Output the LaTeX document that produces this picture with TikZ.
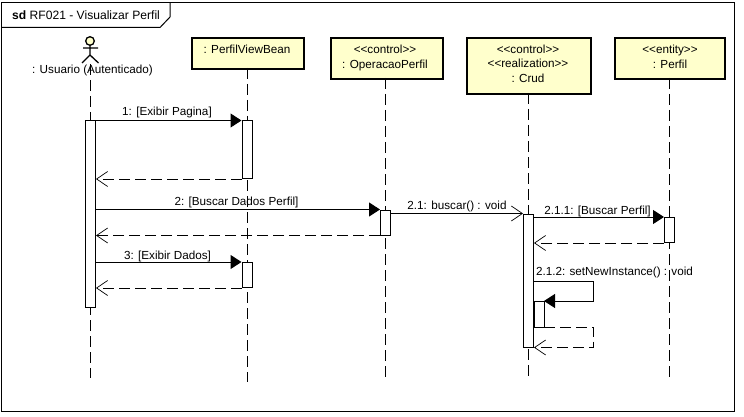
\documentclass[tikz,border=0pt]{standalone}
\usepackage{fontspec}
\setmainfont{Liberation Sans}
\usetikzlibrary{arrows.meta,positioning,calc}
\definecolor{boxfill}{HTML}{FFFFCC}
\tikzset{
  txt/.style={font=\fontsize{11.7}{14.5}\selectfont, inner sep=0pt, align=center, text=black},
  lifebox/.style={draw=black, line width=2pt, fill=boxfill, minimum width=#1, inner sep=0pt},
  act/.style={draw=black, line width=1pt, fill=white, minimum width=10pt, inner sep=0pt, anchor=north},
  life/.style={draw=black, line width=1pt, dash pattern=on 11pt off 5pt},
  sync/.style={draw=black, line width=1pt, -{Triangle[length=11pt,width=14pt]}},
  async/.style={draw=black, line width=1pt, -{Straight Barb[length=11pt,width=15pt,line width=.7pt]}},
  ret/.style={draw=black, line width=1pt, dash pattern=on 11pt off 5pt, -{Straight Barb[length=11pt,width=15pt,line width=.7pt]}}
}
\begin{document}
\begin{tikzpicture}[x=1pt,y=-1pt]
\useasboundingbox (0,0) rectangle (744,417);
\fill[white] (0,0) rectangle (744,417);
% frame
\draw[line width=1pt] (1.5,2.5) rectangle (734.5,411);
\draw[line width=1pt] (1.5,27.5) -- (160,27.5) -- (170,17) -- (170,2.5);
\node[txt, anchor=base west, font=\fontsize{12.1}{14.5}\selectfont] (title) at (12,20) {\textbf{sd} RF021 - Visualizar Perfil};
% lifeline heads
\node[lifebox=112pt, minimum height=31pt, anchor=north west] (pv) at (191,37) {};
\node[lifebox=112pt, minimum height=41pt, anchor=north west] (op) at (329.5,37) {};
\node[lifebox=124pt, minimum height=56pt, anchor=north west] (cr) at (466,37) {};
\node[lifebox=110pt, minimum height=41pt, anchor=north west] (pf) at (614,37) {};
\node[txt, anchor=base] (pvt) at (247,54) {: PerfilViewBean};
\node[txt, anchor=base] (opt1) at (385,54) {<{}<control>{}>};
\node[txt, anchor=base] (opt2) at (385,69) {: OperacaoPerfil};
\node[txt, anchor=base] (crt1) at (528,54) {<{}<control>{}>};
\node[txt, anchor=base] (crt2) at (528,68) {<{}<realization>{}>};
\node[txt, anchor=base] (crt3) at (528,83) {: Crud};
\node[txt, anchor=base] (pft1) at (670,54) {<{}<entity>{}>};
\node[txt, anchor=base] (pft2) at (670,69) {: Perfil};
% actor
\coordinate (ah) at (90,41);
\draw[line width=1.3pt, fill=boxfill] (ah) circle (4.3);
\draw[line width=1.3pt] (90,45.5) -- (90,55) (83,48) -- (98,48) (82,63) -- (90,55) -- (98.5,63);
\node[txt, anchor=base] (ua) at (92.5,74) {: Usuario (Autenticado)};
% lifelines
\coordinate (ue) at (90.5,378);
\coordinate (pve) at (247,382);
\coordinate (ope) at (385.5,378);
\coordinate (cre) at (528,378);
\coordinate (pfe) at (669.5,378);
\draw[life] (90.5,64) -- (ue);
\draw[life] (247,68) -- (pve);
\draw[life] (385.5,78) -- (ope);
\draw[life] (528,93) -- (cre);
\draw[life] (669.5,78) -- (pfe);
% activations
\node[act, minimum height=186.5pt] (ua1) at (90.5,120.5) {};
\node[act, minimum height=57.5pt] (pv1) at (247,120.5) {};
\node[act, minimum height=25pt] (pv2) at (247,262) {};
\node[act, minimum height=25pt] (op1) at (385.5,209.5) {};
\node[act, minimum height=133pt] (cr1) at (528.5,213.5) {};
\node[act, minimum height=25pt] (pf1) at (669.5,217) {};
\node[act, minimum height=25pt] (cr2) at (538.5,301) {};
\draw[line width=1pt, fill=white] (cr2.north east) rectangle (cr1.east |- cr2.south);
% messages
\draw[sync] (ua1.north east) -- (pv1.north west);
\draw[ret] (pv1.south west) -- (ua1.east |- pv1.south);
\draw[sync] (ua1.east |- op1.north) -- (op1.north west);
\draw[ret] (op1.south west) -- (ua1.east |- op1.south);
\draw[sync] (ua1.east |- pv2.north) -- (pv2.north west);
\draw[ret] (pv2.south west) -- (ua1.east |- pv2.south);
\draw[async] (op1.east |- cr1.north) -- (cr1.north west);
\draw[sync] (cr1.east |- pf1.north) -- (pf1.north west);
\draw[ret] (pf1.south west) -- (cr1.east |- pf1.south);
\coordinate (lp1) at (593.5,281);
\coordinate (lp2) at (593.5,346);
\draw[sync] (cr1.east |- lp1) -- (lp1) -- (lp1 |- cr2.north) -- (cr2.north east);
\draw[ret] (cr2.south east) -- (lp2 |- cr2.south) -- (lp2 |- cr1.south) -- (cr1.south east);
% labels
\node[txt, anchor=base] (m1) at (167,116) {1: [Exibir Pagina]};
\node[txt, anchor=base] (m2) at (236.5,205) {2: [Buscar Dados Perfil]};
\node[txt, anchor=base] (m3) at (167.5,259) {3: [Exibir Dados]};
\node[txt, anchor=base] (m21) at (457,209) {2.1: buscar() : void};
\node[txt, anchor=base] (m211) at (597.5,214) {2.1.1: [Buscar Perfil]};
\node[txt, anchor=base] (m212) at (614.5,275) {2.1.2: setNewInstance() : void};
\end{tikzpicture}
\end{document}
